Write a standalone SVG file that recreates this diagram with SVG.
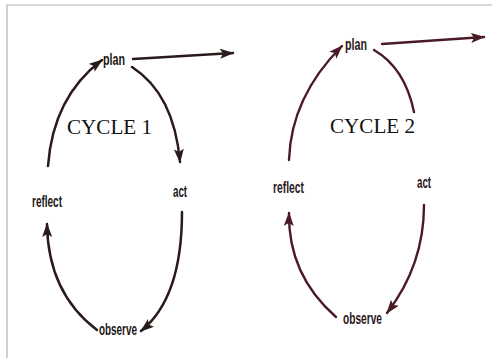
<svg xmlns="http://www.w3.org/2000/svg" width="492" height="358" viewBox="0 0 492 358">
<style>
.lbl{font-family:"Liberation Sans",Arial,sans-serif;font-weight:bold;font-size:16px;fill:#1c1616}
.lbl2{fill:#2a171c}
.cyc{font-family:"Liberation Serif","Times New Roman",serif;font-size:22px;fill:#111}
.a1{fill:none;stroke:#2a1a1a;stroke-width:2.5;stroke-linecap:round}
.a2{fill:none;stroke:#4a1b24;stroke-width:2.4;stroke-linecap:round}
</style>
<defs>
<marker id="h1" markerUnits="userSpaceOnUse" markerWidth="16" markerHeight="12" refX="13" refY="5" orient="auto">
<path d="M0,0 L14,5 L0,10 L3,5 Z" fill="#2a1a1a"/>
</marker>
<marker id="h2" markerUnits="userSpaceOnUse" markerWidth="16" markerHeight="12" refX="13" refY="5" orient="auto">
<path d="M0,0 L14,5 L0,10 L3,5 Z" fill="#4a1b24"/>
</marker>
</defs>
<rect width="492" height="358" fill="#fff"/>
<path d="M7,358 V5 H492" fill="none" stroke="#b0b0b0" stroke-width="1.2"/>
<g id="connectors">
<path class="a1" d="M133,59 L233,53" marker-end="url(#h1)"/>
<path class="a1" d="M48,166 Q53,97 102,60" marker-end="url(#h1)"/>
<path class="a1" d="M132,67 Q174,94 180,162" marker-end="url(#h1)"/>
<path class="a1" d="M182,212 Q182,298 141,331" marker-end="url(#h1)"/>
<path class="a1" d="M97,330 Q48,293 47,224" marker-end="url(#h1)"/>
<path class="a2" d="M382,44 L484,37" marker-end="url(#h2)"/>
<path class="a2" d="M289,160 Q291,97 342,46" marker-end="url(#h2)"/>
<path class="a2" d="M374,50 Q405,68 414,112"/>
<path class="a2" d="M424,205 Q424,265 387,313" marker-end="url(#h2)"/>
<path class="a2" d="M336,317 Q288,275 289,213" marker-end="url(#h2)"/>
</g>
<g id="cycle1-label"><text class="cyc" x="67" y="134" textLength="85" lengthAdjust="spacingAndGlyphs">CYCLE 1</text></g>
<g id="cycle2-label"><text class="cyc" x="330" y="133" textLength="85" lengthAdjust="spacingAndGlyphs">CYCLE 2</text></g>
<g id="plan1"><text class="lbl" x="103" y="65" textLength="22" lengthAdjust="spacingAndGlyphs" font-size="15">plan</text></g>
<g id="act1"><text class="lbl" x="173" y="197" textLength="14" lengthAdjust="spacingAndGlyphs">act</text></g>
<g id="observe1"><text class="lbl" x="99" y="335" textLength="38" lengthAdjust="spacingAndGlyphs">observe</text></g>
<g id="reflect1"><text class="lbl" x="32" y="207" textLength="30" lengthAdjust="spacingAndGlyphs" font-size="17">reflect</text></g>
<g id="plan2"><text class="lbl lbl2" x="345" y="50" textLength="22" lengthAdjust="spacingAndGlyphs" font-size="14">plan</text></g>
<g id="act2"><text class="lbl lbl2" x="417" y="188" textLength="14" lengthAdjust="spacingAndGlyphs" font-size="15">act</text></g>
<g id="observe2"><text class="lbl lbl2" x="343" y="324" textLength="39" lengthAdjust="spacingAndGlyphs">observe</text></g>
<g id="reflect2"><text class="lbl lbl2" x="273" y="193" textLength="31" lengthAdjust="spacingAndGlyphs" font-size="17">reflect</text></g>
</svg>
